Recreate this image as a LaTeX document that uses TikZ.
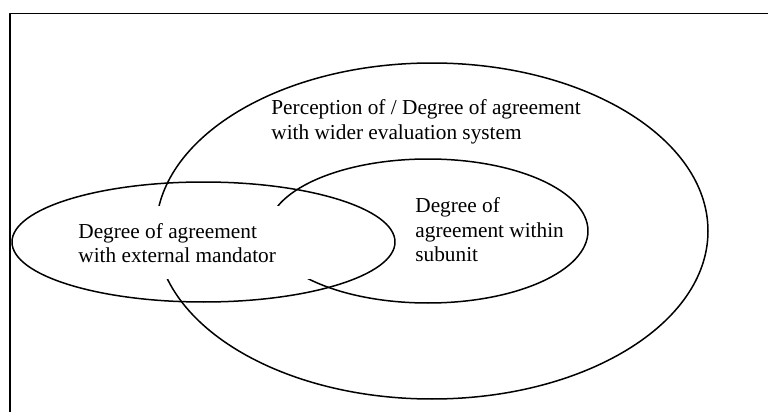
\documentclass[tikz,border=0pt]{standalone}
\usepackage{fontspec}
\setmainfont{Liberation Serif}

\begin{document}
\begin{tikzpicture}[
    x=0.5pt,
    y=-0.5pt,
    line cap=round,
    line join=round,
    frameline/.style={
        draw=black,
        line width=0.9pt
    },
    vennset/.style={
        draw=black,
        line width=0.75pt
    },
    venntext/.style={
        font=\fontsize{10.65pt}{12.25pt}\selectfont,
        align=flush left,
        inner sep=0pt
    }
]

\useasboundingbox (0,0) rectangle (768,412);

% -------------------------------------------------
% Frame (top and left edges)
% -------------------------------------------------

\draw[frameline] (10,412) -- (10,13.5) -- (768,13.5);

% -------------------------------------------------
% Wider evaluation system (large ellipse)
% -------------------------------------------------

\draw[vennset] (432,231) ellipse [x radius=276, y radius=168];

% -------------------------------------------------
% Subunit (middle ellipse)
% -------------------------------------------------

\draw[vennset] (428,231) ellipse [x radius=160, y radius=72];

% -------------------------------------------------
% Labels
% -------------------------------------------------

\node[venntext, anchor=west] (wider) at (271,122)
    {Perception of / Degree of agreement\\with wider evaluation system};

\node[venntext, anchor=west] (subunit) at (415,230)
    {Degree of\\agreement within\\subunit};

\node[venntext, anchor=north west, fill=white,
      inner xsep=4pt, minimum width=125pt, minimum height=36.5pt,
      text width=117pt] (mandator) at (70,206)
    {Degree of agreement\\with external mandator};

% -------------------------------------------------
% External mandator (left ellipse)
% -------------------------------------------------

\draw[vennset] (203.5,242) ellipse [x radius=191.5, y radius=60];

\end{tikzpicture}
\end{document}
